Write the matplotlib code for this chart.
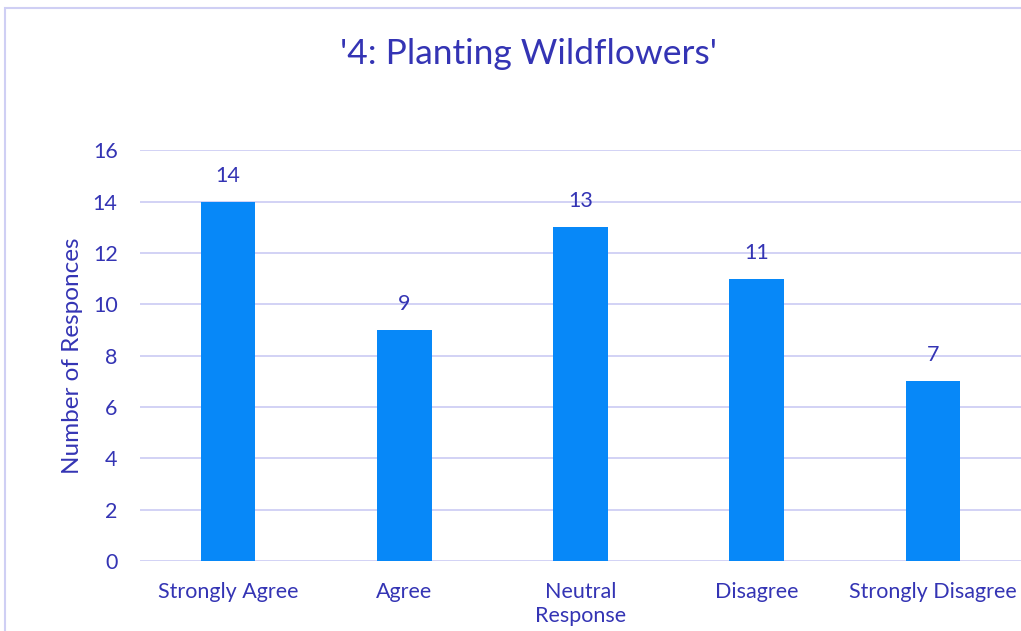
import matplotlib.pyplot as plt
from matplotlib.patches import Rectangle

# survey answers for question 4
categories = ['Strongly Agree', 'Agree', 'Neutral\nResponse', 'Disagree', 'Strongly Disagree']
responses = [14, 9, 13, 11, 7]

text_col = '#3434b4'
bar_col = '#0788f8'
grid_col = '#cfcff4'

plt.rcParams['font.family'] = ['Lato', 'DejaVu Sans']

fig = plt.figure(figsize=(10.21, 6.31), dpi=100)
ax = fig.add_axes([0.137, 0.111, 0.863, 0.651])

# outer chart border (runs off the right and bottom edge)
fig.patches.append(Rectangle((5 / 1021, -0.1), 1.1, 1 - 8 / 631 + 0.1,
                             transform=fig.transFigure, fill=False,
                             edgecolor=grid_col, linewidth=1.5))

x = range(len(categories))
bars = ax.bar(x, responses, width=0.31, color=bar_col, zorder=3)

for i, v in enumerate(responses):
    ax.annotate(str(v), (i, v), xytext=(0, 26), textcoords='offset pixels',
                ha='center', va='center', fontsize=15.5, color=text_col)

ax.set_xlim(-0.5, 4.5)
ax.set_ylim(0, 16)
ax.set_yticks(range(0, 17, 2))
ax.set_xticks(list(x))
ax.set_xticklabels(categories, linespacing=1.25)
ax.tick_params(axis='both', length=0, labelsize=15.5, colors=text_col)
ax.tick_params(axis='y', pad=16)
ax.tick_params(axis='x', pad=15)
ax.grid(axis='y', color=grid_col, linewidth=1.3, zorder=0)
for s in ax.spines.values():
    s.set_visible(False)

ax.set_ylabel('Number of Responces', fontsize=17.5, color=text_col, labelpad=7)
fig.text(0.518, 0.914, "'4: Planting Wildflowers'", ha='center', va='center',
         fontsize=25.5, color=text_col)

fig.savefig('out.png', dpi=100)
